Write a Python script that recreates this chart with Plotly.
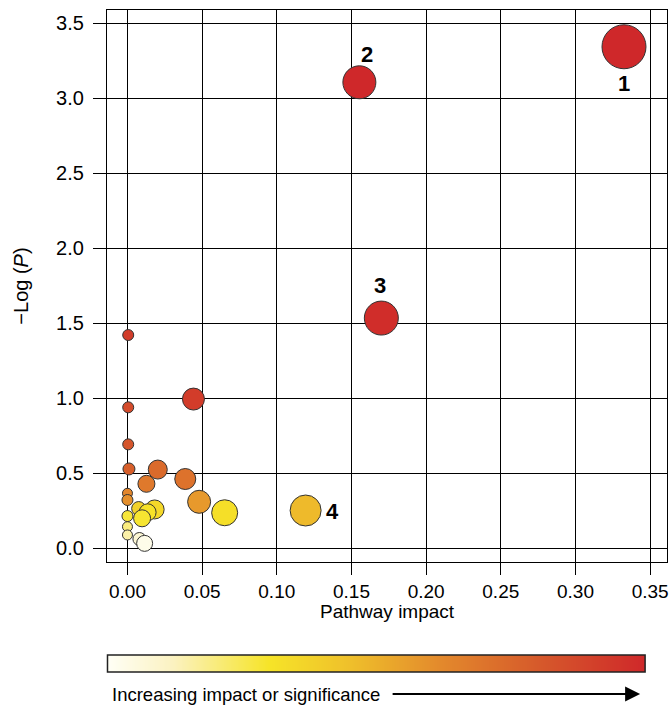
import plotly.graph_objects as go

# Pathway data
impact = [0.3325, 0.1553, 0.170, 0.1193, 0.0442, 0.0005, 0.0005, 0.0005, 0.001, 0.0203,
          0.0387, 0.0127, 0.0, 0.0, 0.048, 0.0651, 0.0182, 0.0075, 0.0135, 0.0098,
          0.0, 0.0, 0.0, 0.008, 0.0115]
neglogp = [3.342, 3.105, 1.533, 0.250, 0.993, 1.420, 0.938, 0.691, 0.527, 0.523,
           0.460, 0.428, 0.365, 0.320, 0.308, 0.235, 0.257, 0.263, 0.238, 0.198,
           0.213, 0.142, 0.087, 0.060, 0.031]
bubble = [44, 33, 34, 31, 22, 11, 11, 11, 12, 19,
          21, 17, 10, 11, 23, 26, 19, 14, 17, 17,
          11, 10, 10, 13, 16]
shade = [1.0, 1.0, 0.98, 0.47, 0.92, 0.92, 0.86, 0.82, 0.78, 0.74,
         0.71, 0.68, 0.63, 0.60, 0.57, 0.32, 0.35, 0.38, 0.31, 0.29,
         0.28, 0.20, 0.15, 0.08, 0.03]
labels = ["1", "2", "3", "4"]
label_shift = [(0, -37), (8, 28), (-1, 33), (27, -1)]

xticks = [0.0, 0.05, 0.10, 0.15, 0.20, 0.25, 0.30, 0.35]
yticks = [0.0, 0.5, 1.0, 1.5, 2.0, 2.5, 3.0, 3.5]
scale_ends = [0, 1]

FONT = "Liberation Sans, Arial, sans-serif"

cscale = [[0.0, '#fffff6'], [0.12, '#fbf2c2'], [0.3, '#f6e428'], [0.45, '#efc02b'],
          [0.62, '#e3892c'], [0.8, '#d65a2b'], [1.0, '#cf282a']]

fig = go.Figure()
fig.add_trace(go.Scatter(
    x=impact, y=neglogp, mode='markers',
    marker=dict(size=bubble, color=shade, colorscale=cscale, cmin=0, cmax=1,
                line=dict(color='#333333', width=1), opacity=1, showscale=False),
    showlegend=False, hoverinfo='x+y'))

# colour key bar
fig.add_trace(go.Heatmap(
    z=[scale_ends], x=scale_ends, y=[0], colorscale=cscale, zmin=0, zmax=1,
    zsmooth='best', showscale=False, xaxis='x2', yaxis='y2', hoverinfo='skip'))

annotations = []
for i, lab in enumerate(labels):
    dx, dy = label_shift[i]
    annotations.append(dict(x=impact[i], y=neglogp[i], text=f"<b>{lab}</b>", showarrow=False,
                            xshift=dx, yshift=dy, font=dict(family=FONT, size=22, color='black')))

# x-axis title placed just under the tick labels
annotations.append(dict(xref='paper', yref='paper', x=0.5, y=0.0975,
                        xanchor='center', yanchor='middle', showarrow=False,
                        text="Pathway impact",
                        font=dict(family=FONT, size=19, color='black')))
annotations.append(dict(xref='paper', yref='paper', x=0.0062, y=-0.0255,
                        xanchor='left', yanchor='middle', showarrow=False,
                        text="Increasing impact or significance",
                        font=dict(family=FONT, size=18.5, color='black')))
annotations.append(dict(xref='paper', yref='paper', x=0.952, y=-0.0255,
                        ax=-249, ay=0, text='', showarrow=True, arrowhead=2, arrowsize=1.5,
                        arrowwidth=2, arrowcolor='black'))

shapes = [dict(type='rect', xref='x2 domain', yref='y2 domain', x0=0, x1=1, y0=0, y1=1,
               line=dict(color='#222222', width=1.5))]

fig.update_layout(
    width=671, height=707,
    margin=dict(l=106.5, r=2, t=10, b=30),
    paper_bgcolor='white', plot_bgcolor='white',
    font=dict(family=FONT, size=20, color='black'),
    annotations=annotations, shapes=shapes,
    xaxis=dict(domain=[0, 1], range=[-0.0137, 0.3613], tickvals=xticks,
               ticktext=[f"{v:.2f}" for v in xticks], ticklabeloverflow='allow',
               showgrid=True, gridcolor='black', gridwidth=1.2, zeroline=False,
               showline=True, linecolor='black', linewidth=1.2, mirror=True,
               ticks='outside', ticklen=12, tickcolor='black', tickwidth=1.2,
               tickfont=dict(size=19, color='black')),
    yaxis=dict(domain=[0.172414, 1], range=[-0.0933, 3.587], tickvals=yticks,
               ticktext=[f"{v:.1f}" for v in yticks], ticklabelstandoff=5,
               showgrid=True, gridcolor='black', gridwidth=1.2, zeroline=False,
               showline=True, linecolor='black', linewidth=1.2, mirror=True,
               ticks='outside', ticklen=13, tickcolor='black', tickwidth=1.2,
               tickfont=dict(size=20, color='black'),
               title=dict(text="\u2212Log (<i>P</i>)", standoff=22,
                          font=dict(size=20, color='black'))),
    xaxis2=dict(domain=[0.00089, 0.96089], range=[0, 1], visible=False, anchor='y2'),
    yaxis2=dict(domain=[0.0075, 0.033], range=[-0.5, 0.5], visible=False, anchor='x2'),
)

# remove the default page margin so the figure fills the window exactly
fig.write_html("out.html", config={'displayModeBar': False},
               post_script="document.body.style.margin='0';document.body.style.overflow='hidden';")
